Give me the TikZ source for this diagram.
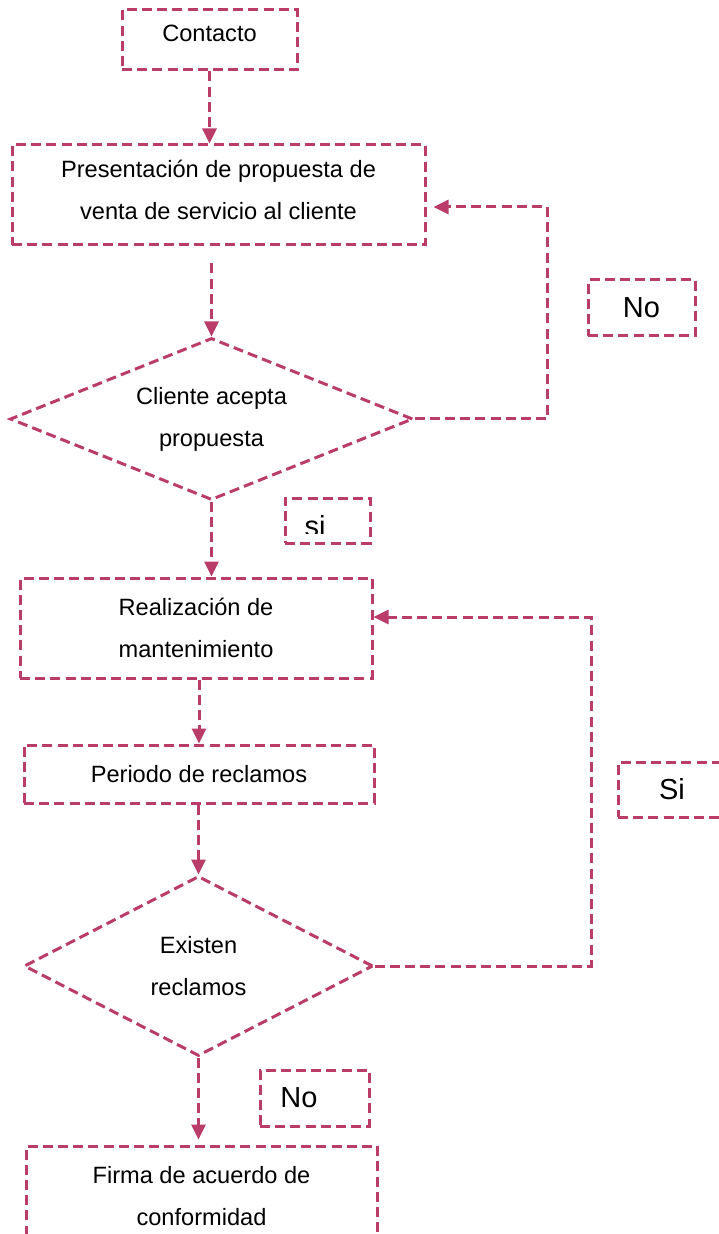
\documentclass[tikz,border=0pt]{standalone}
\usepackage{fontspec}
\setmainfont{Liberation Sans}
\usetikzlibrary{arrows.meta,shapes.geometric}
\definecolor{rosa}{RGB}{185,60,105}

\begin{document}
\begin{tikzpicture}[x=0.5pt,y=-0.5pt,
	line width=1.5pt,
	box/.style={draw=rosa,dash pattern=on 5pt off 2.6pt,rectangle,inner sep=0pt,align=center,font=\fontsize{11.8}{21}\selectfont},
	decision/.style={draw=rosa,dash pattern=on 5pt off 2.6pt,diamond,inner sep=0pt,align=center,font=\fontsize{11.8}{21}\selectfont},
	answer/.style={draw=rosa,dash pattern=on 5pt off 2.6pt,rectangle,inner sep=0pt,font=\fontsize{14.5}{17}\selectfont},
	flow/.style={draw=rosa,dash pattern=on 5pt off 2.6pt,-{Triangle[length=7.5pt,width=7pt]}}]
\useasboundingbox (0,0) rectangle (718,1234);

\node[box,minimum width=87.5pt,minimum height=30pt,text depth=6.5pt] (contacto) at (209.5,40) {Contacto};
\node[box,minimum width=206.5pt,minimum height=50pt,text depth=5pt] (propuesta) at (218.5,195) {Presentación de propuesta de\\venta de servicio al cliente};
\node[decision,aspect=2.5,minimum width=201.5pt,minimum height=81pt] (acepta) at (211.5,419) {Cliente acepta\\propuesta};
\node[answer,minimum width=53.5pt,minimum height=28pt] (no1) at (641.5,308) {No};
\node[answer,minimum width=42.5pt,minimum height=22.5pt] (si1) at (327.5,520.5) {};
\begin{scope}
	\clip (si1.north west) rectangle (si1.east |- 0,533);
	\node[anchor=base,font=\fontsize{14.5}{17}\selectfont] (si1text) at (315,536) {si};
\end{scope}

\node[box,minimum width=176pt,minimum height=50pt] (mant) at (196,628) {Realización de\\mantenimiento};
\node[box,minimum width=175pt,minimum height=29pt] (periodo) at (199,774) {Periodo de reclamos};
\node[decision,aspect=1.94,minimum width=174.5pt,minimum height=90pt] (existen) at (198.5,966) {Existen\\reclamos};
\node[answer,minimum width=54pt,minimum height=27.5pt] (si2) at (672,789.5) {Si};
\node[answer,minimum width=54.5pt,minimum height=28pt] (no2) at (314.5,1098) {No\kern15.5pt};
\node[box,minimum width=175.5pt,minimum height=50pt] (firma) at (201.5,1196) {Firma de acuerdo de\\conformidad};

% flujo principal
\draw[flow] (contacto.south) -- (contacto.south |- propuesta.north);
\draw[flow,shorten <=8.5pt] (acepta.north |- propuesta.south) -- (acepta.north);
\draw[flow] (acepta.south) -- (acepta.south |- mant.north);
\draw[flow] (periodo.north |- mant.south) -- (periodo.north);
\draw[flow] (existen.north |- periodo.south) -- (existen.north);
\draw[flow,shorten >=2.5pt] (existen.south) -- (existen.south |- firma.north);

% retornos
\coordinate (noturn) at (547,207);
\draw[flow,shorten >=3.5pt] (acepta.east) -| (noturn) -- (propuesta.east |- noturn);
\coordinate (siturn) at (591,617);
\draw[flow] (existen.east) -| (siturn) -- (mant.east |- siturn);

\end{tikzpicture}
\end{document}
